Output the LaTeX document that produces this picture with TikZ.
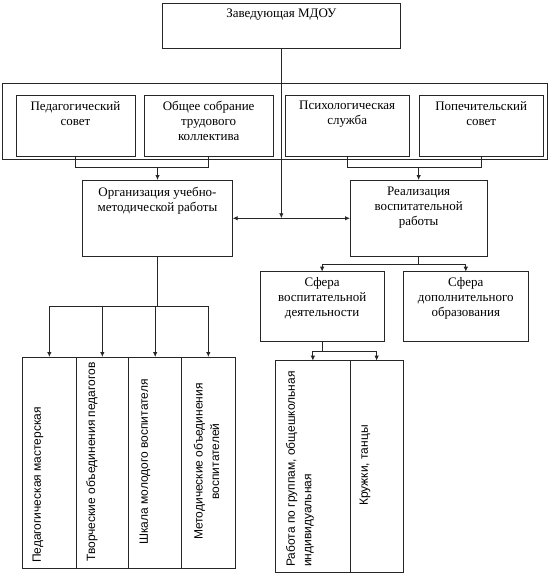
\documentclass[tikz,border=0pt]{standalone}
\usepackage{fontspec}
\setmainfont{Liberation Serif}
\newfontfamily\sansf{Liberation Sans}
\usetikzlibrary{arrows.meta}
\begin{document}
\begin{tikzpicture}[x=1pt,y=-1pt,
  box/.style={draw=black!85, line width=0.9pt, inner sep=0pt, outer sep=0pt, anchor=north west},
  lbl/.style={inner sep=0pt, font=\fontsize{13}{15}\selectfont, align=center, anchor=north},
  rlbl/.style={inner sep=0pt, font=\sansf\fontsize{12}{16.5}\selectfont, rotate=90},
  conn/.style={draw=black!85, line width=0.9pt},
  arr/.style={conn, -{Latex[length=5pt,width=4.5pt]}},
  darr/.style={conn, {Latex[length=5pt,width=4.5pt]}-{Latex[length=5pt,width=4.5pt]}},
]
\useasboundingbox (0,0) rectangle (550,576);

% boxes
\node[box, minimum width=237.3pt, minimum height=45pt] (top) at (162.7,3.3) {};
\node[box, minimum width=545pt, minimum height=76pt] (outer) at (2.7,83.3) {};
\node[box, minimum width=119pt, minimum height=61.7pt] (ped) at (16,95) {};
\node[box, minimum width=129.3pt, minimum height=61.7pt] (obsh) at (144,95) {};
\node[box, minimum width=124.3pt, minimum height=61.7pt] (psy) at (285,95) {};
\node[box, minimum width=124.3pt, minimum height=61.7pt] (pop) at (419,95) {};
\node[box, minimum width=150.4pt, minimum height=76.5pt] (org) at (82.3,180) {};
\node[box, minimum width=137.3pt, minimum height=76.5pt] (real) at (350,180) {};
\node[box, minimum width=124.3pt, minimum height=70pt] (sv) at (260,271.7) {};
\node[box, minimum width=125pt, minimum height=70pt] (sd) at (403.3,271.7) {};
\node[box, minimum width=53.3pt, minimum height=211pt] (b1) at (22.7,357) {};
\node[box, minimum width=52.7pt, minimum height=211pt] (b2) at (76,357) {};
\node[box, minimum width=53pt, minimum height=211pt] (b3) at (128.7,357) {};
\node[box, minimum width=53.3pt, minimum height=211pt] (b4) at (181.7,357) {};
\node[box, minimum width=74.3pt, minimum height=211.3pt] (b5) at (275.7,360.7) {};
\node[box, minimum width=53.3pt, minimum height=211.3pt] (b6) at (350,360.7) {};

% texts
\node[lbl] (ttop) at ([yshift=-5.5pt]top.north) {Заведующая МДОУ};
\node[lbl] (tped) at ([yshift=-6pt]ped.north) {Педагогический\\совет};
\node[lbl] (tobsh) at ([yshift=-6pt]obsh.north) {Общее собрание\\трудового\\коллектива};
\node[lbl] (tpsy) at ([yshift=-6pt]psy.north) {Психологическая\\служба};
\node[lbl] (tpop) at ([yshift=-6pt]pop.north) {Попечительский\\совет};
\node[lbl] (torg) at ([yshift=-6.5pt]org.north) {Организация учебно-\\методической работы};
\node[lbl] (treal) at ([yshift=-6.5pt]real.north) {Реализация\\воспитательной\\работы};
\node[lbl] (tsv) at ([yshift=-5.5pt]sv.north) {Сфера\\воспитательной\\деятельности};
\node[lbl] (tsd) at ([yshift=-5.5pt]sd.north) {Сфера\\дополнительного\\образования};

\node[rlbl] (tb1) at (38,485) {Педагогическая мастерская};
\node[rlbl] (tb2) at (92,462) {Творческие объединения педагогов};
\node[rlbl] (tb3) at (145,462) {Шкала молодого воспитателя};
\node[rlbl, align=center] (tb4) at (206.5,461.5) {Методические объединения\\воспитателей};
\node[rlbl, align=left, anchor=west] (tb5) at (300,567) {Работа по группам, общешкольная\\индивидуальная};
\node[rlbl] (tb6) at (365,465.5) {Кружки, танцы};

% connectors
\draw[arr] (top.south) -- (top.south |- org.east);
\draw[darr] (org.east) -- (real.west);

\coordinate (lj) at (org.north |- 0,167.7);
\coordinate (rj) at (real.north |- 0,167.7);
\draw[conn] (ped.south) |- (lj) -| (obsh.south);
\draw[arr] (lj) -- (org.north);
\draw[conn] (psy.south) |- (rj) -| (pop.south);
\draw[arr] (rj) -- (real.north);

\coordinate (rsj) at (real.south |- 0,264.3);
\draw[conn] (real.south) -- (rsj);
\draw[arr] (rsj) -| (sv.north);
\draw[arr] (rsj) -| (sd.north);

\coordinate (oj) at (org.south |- 0,306.7);
\draw[conn] (org.south) -- (oj);
\foreach \b in {b1,b2,b3,b4} \draw[arr] (oj) -| (\b.north);

\coordinate (sj) at (sv.south |- 0,351.7);
\draw[conn] (sv.south) -- (sj);
\draw[arr] (sj) -| (b5.north);
\draw[arr] (sj) -| (b6.north);
\end{tikzpicture}
\end{document}
